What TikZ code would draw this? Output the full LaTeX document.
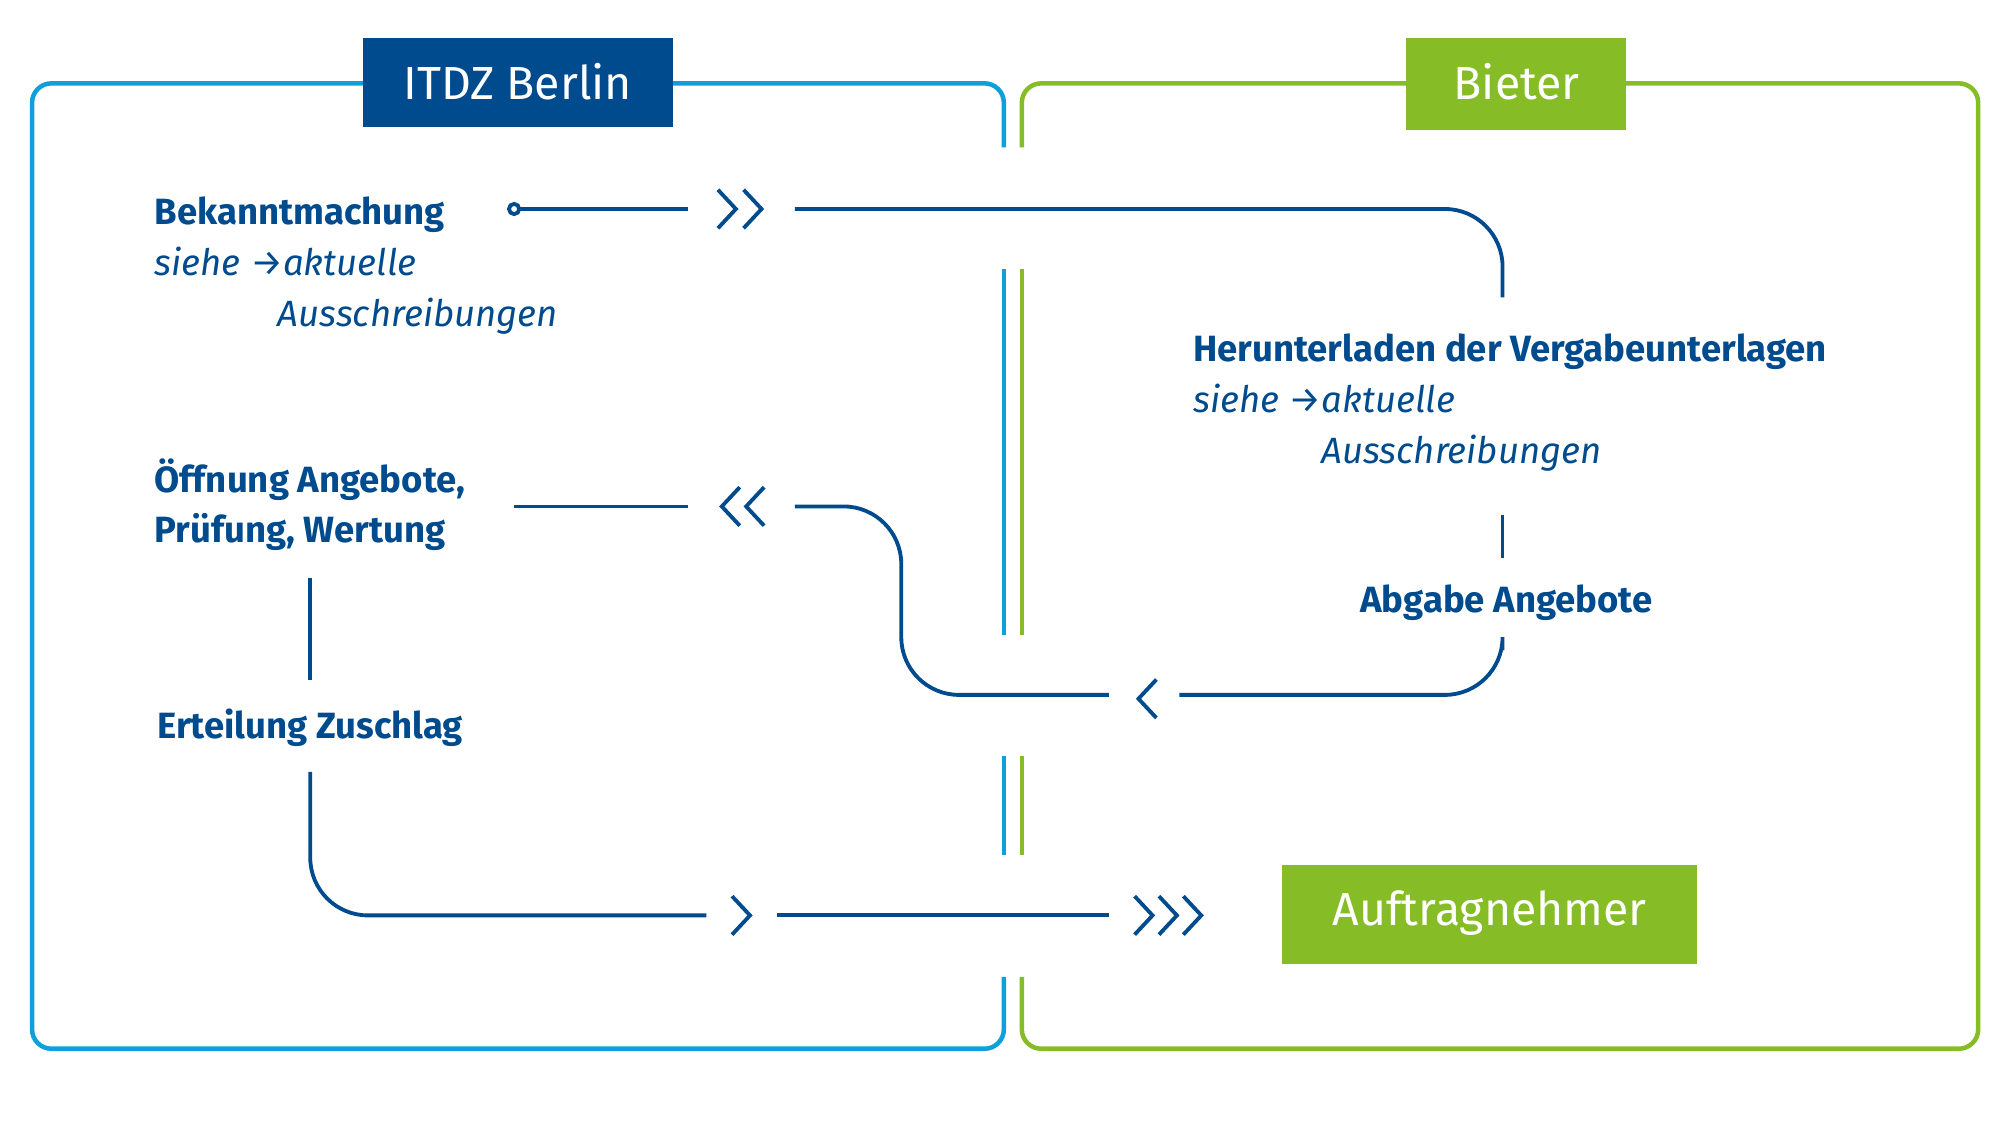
\documentclass[tikz,border=0pt]{standalone}
\usepackage{fontspec}
\setmainfont{Fira Sans}
\usetikzlibrary{positioning}
\definecolor{itdzblue}{HTML}{004B8D}
\definecolor{frameblue}{HTML}{0FA0DC}
\definecolor{bietergreen}{HTML}{86BC25}
\tikzset{
  flow/.style={itdzblue,line width=0.85pt,rounded corners=12.8pt},
  chev/.style={itdzblue,line width=0.85pt},
  frame/.style={line width=1pt,rounded corners=4.3pt},
  stage/.style={text=itdzblue,font=\fontsize{8.1}{11.2}\selectfont\bfseries,align=left,inner sep=0pt},
  hint/.style={text=itdzblue,font=\fontsize{8.1}{11.2}\selectfont\itshape,align=left,inner sep=0pt},
  party/.style={text=white,font=\fontsize{10.3}{12}\selectfont,inner sep=0pt}
}
\begin{document}
\begin{tikzpicture}[x=0.01cm,y=-0.01cm]
  \useasboundingbox (0,0) rectangle (1560,877.5);

  % frames
  \draw[frameblue,frame] (283,65) -- (25,65) -- (25,818) -- (783,818) -- (783,762);
  \draw[frameblue,frame] (525,65) -- (783,65) -- (783,115);
  \draw[frameblue,frame] (783,210) -- (783,495) (783,590) -- (783,667);
  \draw[bietergreen,frame] (1097,65) -- (797,65) -- (797,115);
  \draw[bietergreen,frame] (1268,65) -- (1543,65) -- (1543,818) -- (797,818) -- (797,762);
  \draw[bietergreen,frame] (797,210) -- (797,495) (797,590) -- (797,667);

  % parties
  \fill[itdzblue] (283,30) rectangle (525,99);
  \node[party] (itdz) at (404,64) {ITDZ Berlin};
  \fill[bietergreen] (1097,30) rectangle (1268,101);
  \node[party] (bieter) at (1183,64) {Bieter};
  \fill[bietergreen] (1000,675) rectangle (1324,752);
  \node[party] (an) at (1162,712) {Auftragnehmer};

  % stages
  \node[stage,anchor=base west] (bek) at (120,175) {Bekanntmachung};
  \node[hint,anchor=north west] (bekh) at (120,192) {siehe →aktuelle\\\hspace*{0.96cm}Ausschreibungen};
  \node[stage,anchor=base west] (her) at (930,282) {Herunterladen der Vergabeunterlagen};
  \node[hint,anchor=north west] (herh) at (930,299) {siehe →aktuelle\\\hspace*{1cm}Ausschreibungen};
  \node[stage,anchor=base] (abg) at (1175,478) {Abgabe Angebote};
  \node[stage,anchor=north west] (oef) at (120,357) {Öffnung Angebote,\\Prüfung, Wertung};
  \node[stage,anchor=base west] (ert) at (122,576) {Erteilung Zuschlag};

  % connectors
  \coordinate (b0) at (401,163);
  \draw[itdzblue,line width=0.85pt] (b0) circle (4);
  \draw[flow] (405,163) -- (537,163);
  \draw[chev] (560,148) -- ++(14,15) -- ++(-14,15) (580,148) -- ++(14,15) -- ++(-14,15);
  \draw[flow] (620,163) -- (1172,163) -- (1172,232);
  \draw[flow] (1172,402) -- (1172,435);
  \draw[flow] (1172,507) -- (1172,542) -- (920,542);
  \draw[chev] (902,530) -- ++(-14,15) -- ++(14,15);
  \draw[flow] (865,542) -- (703,542) -- (703,395) -- (620,395);
  \draw[chev] (577,380) -- ++(-14,15) -- ++(14,15) (596,380) -- ++(-14,15) -- ++(14,15);
  \draw[flow] (537,395) -- (401,395);
  \draw[flow] (242,451) -- (242,530);
  \draw[flow] (242,602) -- (242,714) -- (551,714);
  \draw[chev] (571,699) -- ++(14,15) -- ++(-14,15);
  \draw[flow] (606,714) -- (865,714);
  \draw[chev] (885,699) -- ++(14,15) -- ++(-14,15) (904,699) -- ++(14,15) -- ++(-14,15) (923,699) -- ++(14,15) -- ++(-14,15);
\end{tikzpicture}
\end{document}
